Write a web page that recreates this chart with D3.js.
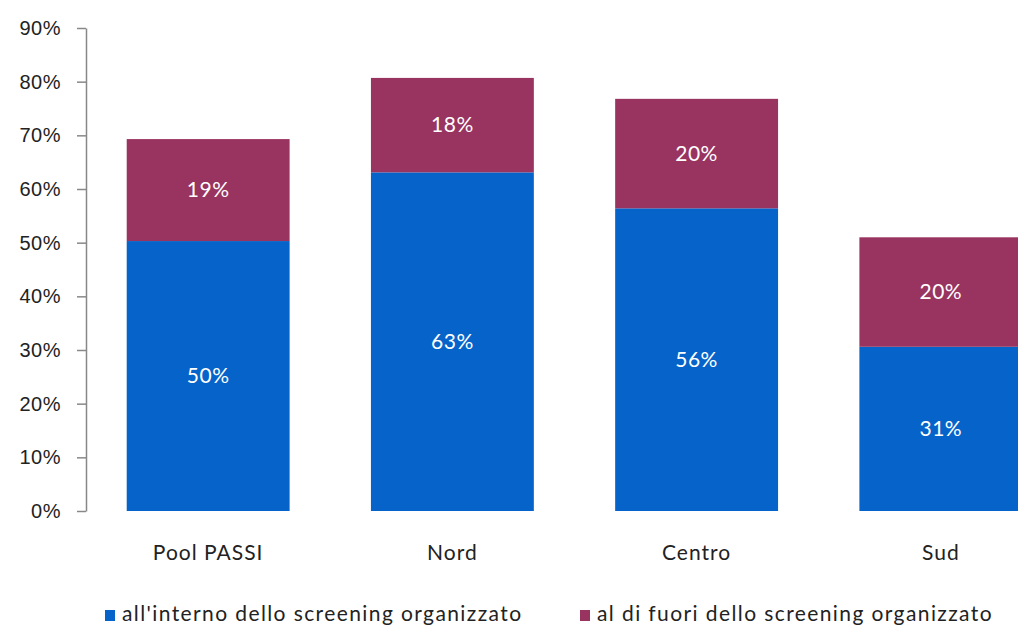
<!DOCTYPE html>
<html>
<head>
<meta charset="utf-8">
<script src="https://cdn.jsdelivr.net/npm/d3@7"></script>
<style>
  body { margin: 0; background: #fff; }
  svg { display: block; font-family: Lato, "Open Sans", sans-serif; }
</style>
</head>
<body>
<svg id="svgRoot" width="1018" height="630"></svg>
<script>
// data (percent)
const categories = ["Pool PASSI", "Nord", "Centro", "Sud"]
const interno = [50.3, 63.1, 56.4, 30.6]
const fuori = [19.0, 17.6, 20.4, 20.4]
const seriesNames = ["all'interno dello screening organizzato", "al di fuori dello screening organizzato"]
const yTicks = [0, 10, 20, 30, 40, 50, 60, 70, 80, 90]

const colors = ["#0563c9", "#993360"]

const margin = { top: 28, left: 86, bottom: 119, right: -45 }
const width = 1018
const height = 630

let svg = d3.select("#svgRoot")

let scale_x = d3
  .scaleBand()
  .domain(categories)
  .range([margin.left, width - margin.right])
  .paddingInner(0.333)
  .paddingOuter(0.1667)

let scale_y = d3
  .scaleLinear()
  .domain([0, 90])
  .range([height - margin.bottom, margin.top])

// build stacked table from the arrays
let table = categories.map((c, i) => ({ cat: c, interno: interno[i], fuori: fuori[i] }))
let stacked = d3.stack().keys(["interno", "fuori"])(table)

// y axis
let g_yAxis = svg.append("g")
  .attr("transform", "translate(" + margin.left + ", 0)")
  .call(d3.axisLeft(scale_y).tickValues(yTicks).tickFormat((d) => d + "%").tickSize(9).tickSizeOuter(0).tickPadding(16))
g_yAxis.select(".domain").attr("stroke", "#888").attr("stroke-width", 1.5)
g_yAxis.selectAll(".tick line").attr("stroke", "#888").attr("stroke-width", 1.5)
g_yAxis.selectAll("text").attr("font-size", 20).attr("letter-spacing", 0.5).attr("fill", "#222")

// bars
let g_bars = svg.append("g")
stacked.forEach((layer, k) => {
  g_bars.selectAll(".bar" + k)
    .data(layer)
    .enter()
    .append("rect")
    .attr("class", "bar" + k)
    .attr("x", (d) => scale_x(d.data.cat))
    .attr("y", (d) => scale_y(d[1]))
    .attr("width", scale_x.bandwidth())
    .attr("height", (d) => scale_y(d[0]) - scale_y(d[1]))
    .attr("fill", colors[k])

  g_bars.selectAll(".lab" + k)
    .data(layer)
    .enter()
    .append("text")
    .attr("x", (d) => scale_x(d.data.cat) + scale_x.bandwidth() / 2)
    .attr("y", (d) => (scale_y(d[0]) + scale_y(d[1])) / 2)
    .attr("dy", "0.35em")
    .attr("text-anchor", "middle")
    .attr("font-size", 21)
    .attr("letter-spacing", 0.5)
    .attr("fill", "#fff")
    .text((d) => Math.round(d[1] - d[0]) + "%")
})

// category labels (no axis line)
svg.append("g").selectAll("text")
  .data(categories)
  .enter()
  .append("text")
  .attr("x", (d) => scale_x(d) + scale_x.bandwidth() / 2)
  .attr("y", 560)
  .attr("text-anchor", "middle")
  .attr("font-size", 21)
  .attr("letter-spacing", 1)
  .attr("fill", "#222")
  .text((d) => d)

// legend
const legendX = [105, 580]
let legend = svg.append("g")
seriesNames.forEach((name, k) => {
  legend.append("rect")
    .attr("x", legendX[k])
    .attr("y", 610)
    .attr("width", 10)
    .attr("height", 11)
    .attr("fill", colors[k])
  legend.append("text")
    .attr("x", legendX[k] + 17)
    .attr("y", 621)
    .attr("font-size", 21)
    .attr("letter-spacing", 1.4)
    .attr("fill", "#222")
    .text(name)
})
</script>
</body>
</html>
